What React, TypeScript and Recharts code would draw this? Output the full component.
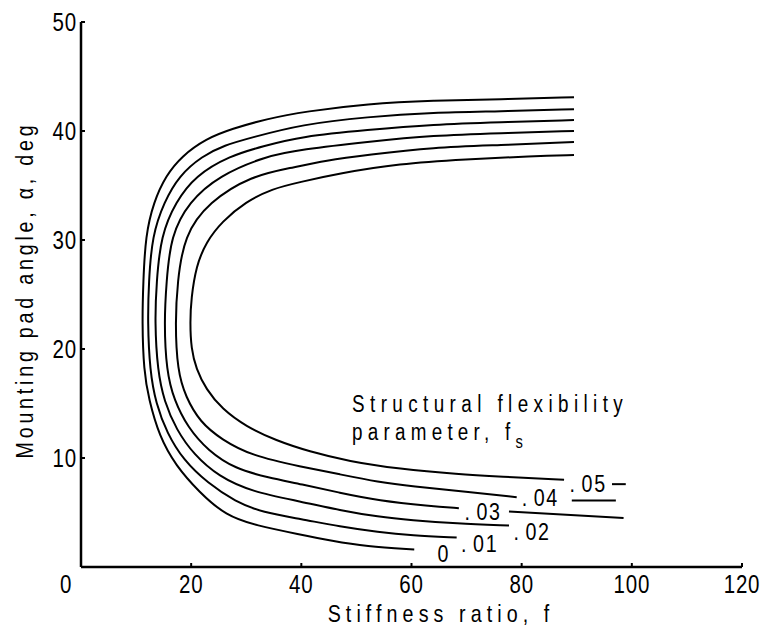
import { LineChart, Line, XAxis, YAxis } from "recharts"

// stiffness ratio f (x) against mounting pad angle alpha in deg (y)
const fTicks = [0, 20, 40, 60, 80, 100, 120]
const alphaTicks = [10, 20, 30, 40, 50]

// each curve: upper branch from the right end round the nose, then the lower branch out to the right
const curveFs0: [number, number][] = [
  [89.5, 43.1], [76, 42.9], [64, 42.8], [52, 42.5], [40.8, 41.8], [33.6, 41.1], [27.4, 40.2],
  [22.7, 39.3], [18.3, 37.7], [15.4, 35.9], [13.2, 33.5], [11.7, 30.4], [11.3, 26.1], [11.1, 22.5],
  [11.4, 18], [12.3, 15.4], [14.2, 12.0], [17.2, 9.3], [21.4, 6.9], [26.3, 4.7], [31.8, 3.8],
  [39.6, 3.0], [45.6, 2.4], [51.7, 1.9], [60.5, 1.6],
]
const curveFs01: [number, number][] = [
  [89.5, 42.0], [76, 41.8], [64, 41.7], [52, 41.3], [40, 40.6], [31, 39.4], [26, 38.7],
  [22.0, 37.7], [17.8, 35.9], [15.1, 33.5], [12.9, 30.4], [12.3, 26.1], [12.1, 22.5],
  [12.5, 18], [13.6, 15], [15.6, 12.3], [18.6, 9.8], [23, 7.7], [28, 6.0], [33, 5.0],
  [40, 4.4], [47, 3.7], [54, 3.2], [60, 2.9], [68.2, 2.7],
]
const curveFs02: [number, number][] = [
  [89.5, 41.0], [76, 40.8], [64, 40.6], [52, 40.1], [40, 39.5], [33, 38.6], [26.9, 37.7],
  [20.8, 35.9], [17.2, 33.5], [14.5, 30.4], [13.7, 26.1], [13.4, 22.5],
  [13.9, 18], [15.1, 15.2], [17.3, 12.6], [20.5, 10.3], [25, 8.3], [31, 6.9], [40, 6.0],
  [47, 5.2], [54, 4.6], [60, 4.3], [68, 4.0], [77.7, 3.8],
]
const curveFs03: [number, number][] = [
  [89.5, 40.0], [76, 39.8], [64, 39.6], [52, 39.0], [40, 38.3], [33.6, 37.7], [25.0, 35.9],
  [19.6, 33.5], [16.3, 30.4], [15.5, 26.1], [15.1, 22.5],
  [15.5, 18], [16.9, 15.3], [19.4, 12.8], [23, 10.7], [28, 9.0], [34, 8.2], [40, 7.6],
  [47, 6.8], [54, 6.1], [63.2, 5.6], [68.6, 5.4],
]
const curveFs04: [number, number][] = [
  [89.5, 39.0], [76, 38.7], [64, 38.5], [52, 37.8], [44.5, 37.3], [38, 36.6], [31.0, 35.9],
  [23.2, 33.5], [18.7, 30.4], [17.5, 26.1], [17.1, 22.5],
  [17.5, 18], [19.0, 15.6], [21.6, 13.3], [25.5, 11.7], [31, 10.2], [40, 9.2], [47, 8.5],
  [54, 7.8], [60, 7.4], [70, 6.9], [79.1, 6.4],
]
const curveFs05: [number, number][] = [
  [89.5, 37.8], [81.9, 37.7], [69.9, 37.4], [57.7, 37.0], [46.8, 36.1], [39.6, 35.3], [34.7, 34.7],
  [29.9, 33.5], [25.6, 31.7], [22.7, 29.8], [20.9, 27.6], [20.0, 24.6], [19.8, 22.5],
  [20.0, 20.0], [20.9, 18.2], [22.7, 16.3], [25.6, 14.5], [29.9, 12.9], [35.4, 11.6], [41.4, 10.6],
  [48.6, 9.7], [57.7, 9.0], [68.6, 8.5], [75.9, 8.3], [87.7, 8.0],
]
// bits of line that carry on past the label
const tailFs03: [number, number][] = [[77.7, 5.1], [98.5, 4.5]]
const tailFs04: [number, number][] = [[89.1, 6.1], [97.1, 6.1]]
const tailFs05: [number, number][] = [[96.4, 7.6], [98.9, 7.6]]

const curveLabels = ["0", ".01", ".02", ".03", ".04", ".05"]
// where each label sits (f, alpha)
const labelAt: [number, number][] = [[64.7, 0.5], [69.0, 1.4], [78.5, 2.5], [69.6, 4.3], [80.0, 5.6], [88.7, 6.9]]

const W = 771
const H = 638
const left = 81
const right = 742
const top = 22
const bottom = 567
const fx = (f: number) => left + (f / 120) * (right - left)
const ay = (a: number) => bottom - (a / 50) * (bottom - top)

const font = "'Liberation Sans', Arial, sans-serif"
const SX = 0.82

// narrow, letter-spaced lettering like the original typewriter-ish labels
const NText = ({ x, y, size = 24, ls = 0, anchor = "start", rot = 0, children }: any) => (
  <text
    transform={`translate(${x},${y})${rot ? ` rotate(${rot})` : ""} scale(${SX},1)`}
    textAnchor={anchor}
    fontFamily={font}
    fontSize={size}
    letterSpacing={ls}
    fill="#000"
  >
    {children}
  </text>
)

const toPts = (c: [number, number][]) => c.map(([f, a]) => ({ f, a }))

const XTick = (props: any) => {
  const { x, y, payload } = props
  const v = payload.value
  return (
    <g>
      {v !== 0 && <line x1={x} y1={y} x2={x} y2={y - 4} stroke="#000" strokeWidth={2} />}
      <NText x={v === 0 ? x - 15 : x} y={y + 26} size={25} ls={1} anchor="middle">
        {v}
      </NText>
    </g>
  )
}

const YTick = (props: any) => {
  const { x, y, payload } = props
  return (
    <g>
      <line x1={x} y1={y} x2={x + 4} y2={y} stroke="#000" strokeWidth={2} />
      <NText x={x - 4} y={y + 9} size={25} ls={1} anchor="end">
        {payload.value}
      </NText>
    </g>
  )
}

export default function App() {
  const curves = [curveFs0, curveFs01, curveFs02, curveFs03, curveFs04, curveFs05, tailFs03, tailFs04, tailFs05]
  return (
    <div style={{ position: "absolute", left: 0, top: 0, width: W, height: H, background: "#fff" }}>
      <LineChart width={W} height={H} margin={{ top: top, right: W - right, left: 0, bottom: 0 }}>
        <XAxis
          type="number"
          dataKey="f"
          domain={[0, 120]}
          ticks={fTicks}
          interval={0}
          height={H - bottom}
          tickSize={0}
          tickMargin={0}
          tickLine={false}
          axisLine={{ stroke: "#000", strokeWidth: 2.5 }}
          tick={<XTick />}
          allowDataOverflow
        />
        <YAxis
          type="number"
          dataKey="a"
          domain={[0, 50]}
          ticks={alphaTicks}
          interval={0}
          width={left}
          tickSize={0}
          tickMargin={0}
          tickLine={false}
          axisLine={{ stroke: "#000", strokeWidth: 2.5 }}
          tick={<YTick />}
          allowDataOverflow
        />
        {curves.map((c, i) => (
          <Line
            key={i}
            data={toPts(c)}
            dataKey="a"
            type="basis"
            stroke="#000"
            strokeWidth={2}
            dot={false}
            activeDot={false}
            isAnimationActive={false}
          />
        ))}
        {curveLabels.map((t, i) => (
          <NText key={t} x={fx(labelAt[i][0])} y={ay(labelAt[i][1])} size={24} ls={2}>
            {t.startsWith(".") ? (
              <>
                <tspan>.</tspan>
                <tspan dx={6}>{t.slice(1)}</tspan>
              </>
            ) : (
              t
            )}
          </NText>
        ))}
        <NText x={352} y={412} size={23} ls={6.6}>
          Structural flexibility
        </NText>
        <NText x={352} y={440} size={23} ls={6.4}>
          parameter, f
          <tspan fontSize={18} dy={8}>s</tspan>
        </NText>
        <NText x={441} y={622} size={24} ls={6.2} anchor="middle">
          Stiffness ratio, f
        </NText>
        <NText x={33} y={290} size={24} ls={4.6} anchor="middle" rot={-90}>
          Mounting pad angle, α, deg
        </NText>
      </LineChart>
    </div>
  )
}
